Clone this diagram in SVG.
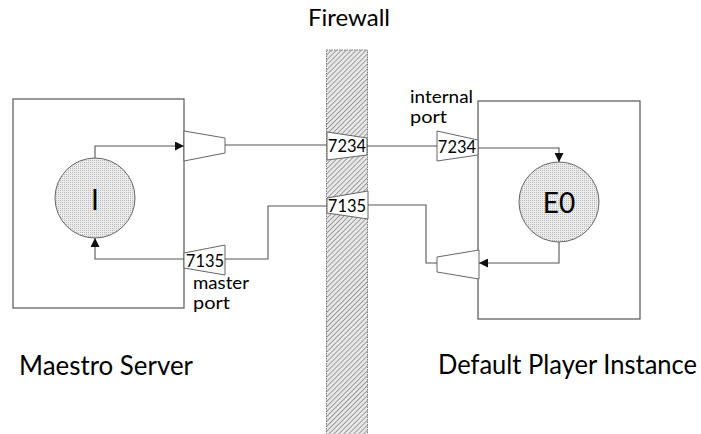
<svg xmlns="http://www.w3.org/2000/svg" width="701" height="434" viewBox="0 0 701 434">
  <defs>
    <pattern id="hatch" width="3.5" height="3.5" patternUnits="userSpaceOnUse" patternTransform="rotate(45)">
      <rect width="3.5" height="3.5" fill="#e8e8e8"/>
      <line x1="0" y1="0" x2="0" y2="3.5" stroke="#858585" stroke-width="1.5"/>
    </pattern>
    <pattern id="dots" width="2" height="2" patternUnits="userSpaceOnUse">
      <rect width="2" height="2" fill="#ececec"/>
      <rect width="1" height="1" fill="#b8b8b8"/>
    </pattern>
    <marker id="arrow" viewBox="0 0 10 10" refX="10" refY="5" markerWidth="9" markerHeight="9" markerUnits="userSpaceOnUse" orient="auto">
      <path d="M0,0 L10,5 L0,10 z" fill="#111"/>
    </marker>
  </defs>
  <style>
    .box { fill: #fff; stroke: #555; stroke-width: 1.2; }
    .proc { fill: url(#dots); stroke: #666; stroke-width: 1; }
    .port { fill: #fff; stroke: #666; stroke-width: 1; }
    .wire { fill: none; stroke: #555; stroke-width: 1.1; }
    .lbl { font-family: Lato, "Open Sans", sans-serif; fill: #000; }
    .big { font-size: 26px; }
    .title { font-size: 24px; }
    .mid { font-size: 16.5px; }
    .num { font-size: 16.5px; }
    .node { font-size: 28px; }
  </style>

  <!-- firewall wall -->
  <g id="firewall">
    <rect x="326.5" y="50" width="41" height="390" fill="url(#hatch)" stroke="#777" stroke-width="1" stroke-dasharray="1.5 1"/>
    <text class="lbl title" x="349" y="26" text-anchor="middle">Firewall</text>
  </g>

  <!-- maestro server -->
  <g id="maestro">
    <rect class="box" x="13" y="99" width="171" height="209"/>
    <circle class="proc" cx="95" cy="198" r="40"/>
    <text class="lbl node" x="95" y="210" text-anchor="middle">I</text>
    <text class="lbl big" x="19" y="375" textLength="174" lengthAdjust="spacingAndGlyphs">Maestro Server</text>
  </g>

  <!-- default player instance -->
  <g id="player">
    <rect class="box" x="478" y="101" width="162" height="218"/>
    <circle class="proc" cx="559" cy="202" r="40"/>
    <text class="lbl node" x="559" y="213" text-anchor="middle">E0</text>
    <text class="lbl big" x="438" y="374" textLength="259" lengthAdjust="spacingAndGlyphs">Default Player Instance</text>
  </g>

  <!-- ports -->
  <g id="port-maestro-out">
    <polygon class="port" points="184,131 225,138 225,153 184,161"/>
  </g>
  <g id="port-master">
    <polygon class="port" points="184,253 225,245 225,275 184,268"/>
    <text class="lbl num" x="205" y="267" text-anchor="middle">7135</text>
    <text class="lbl mid" x="193" y="289" textLength="56" lengthAdjust="spacingAndGlyphs">master</text>
    <text class="lbl mid" x="193" y="309" textLength="37" lengthAdjust="spacingAndGlyphs">port</text>
  </g>
  <g id="port-fw-7234">
    <polygon class="port" points="327,132 367,138 367,155 327,160"/>
    <text class="lbl num" x="347" y="152" text-anchor="middle">7234</text>
  </g>
  <g id="port-fw-7135">
    <polygon class="port" points="327,198 368,191 368,219 327,213"/>
    <text class="lbl num" x="347" y="212" text-anchor="middle">7135</text>
  </g>
  <g id="port-internal">
    <polygon class="port" points="437,131 478,140 478,155 437,161"/>
    <text class="lbl num" x="457" y="153" text-anchor="middle">7234</text>
    <text class="lbl mid" x="410" y="103" textLength="63" lengthAdjust="spacingAndGlyphs">internal</text>
    <text class="lbl mid" x="410" y="123" textLength="37" lengthAdjust="spacingAndGlyphs">port</text>
  </g>
  <g id="port-player-out">
    <polygon class="port" points="437,257 479,250 479,279 437,272"/>
  </g>

  <!-- connectors -->
  <g id="connectors">
    <polyline class="wire" points="95,158 95,146 184,146" marker-end="url(#arrow)"/>
    <line class="wire" x1="225" y1="145" x2="327" y2="145"/>
    <line class="wire" x1="367" y1="146" x2="437" y2="146"/>
    <polyline class="wire" points="478,148 559,148 559,162" marker-end="url(#arrow)"/>
    <polyline class="wire" points="559,242 559,263 479,263" marker-end="url(#arrow)"/>
    <polyline class="wire" points="437,263 426,263 426,205 368,205"/>
    <polyline class="wire" points="327,206 268,206 268,259 225,259"/>
    <polyline class="wire" points="184,259 95,259 95,238" marker-end="url(#arrow)"/>
  </g>
</svg>
